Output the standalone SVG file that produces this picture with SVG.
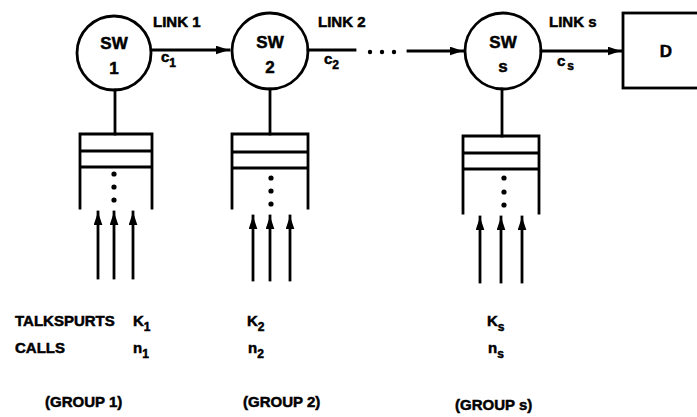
<svg xmlns="http://www.w3.org/2000/svg" width="697" height="417" viewBox="0 0 697 417">
<style>
  .ln { stroke:#000; stroke-width:2.8; fill:none; stroke-linecap:square; }
  .t { font-family:"Liberation Sans", Arial, sans-serif; font-weight:bold; font-size:15px; fill:#000; stroke:#000; stroke-width:0.5; }
  .big { font-size:17px; }
  .sub { font-size:12px; }
  .dot { fill:#000; }
</style>
<defs>
  <marker id="ah" viewBox="0 0 12 8" refX="12" refY="4" markerWidth="13" markerHeight="9" markerUnits="userSpaceOnUse" orient="auto">
    <path d="M0,0 L12,4 L0,8 Z" fill="#000"/>
  </marker>
  <marker id="au" viewBox="0 0 12 8" refX="12" refY="4" markerWidth="13" markerHeight="9" markerUnits="userSpaceOnUse" orient="auto">
    <path d="M0,0 L12,4 L0,8 Z" fill="#000"/>
  </marker>
</defs>
<rect width="697" height="417" fill="#fff"/>

<g id="connectors">
  <line class="ln" x1="152" y1="50" x2="229" y2="50" marker-end="url(#ah)"/>
  <line class="ln" x1="308" y1="50" x2="355" y2="50"/>
  <circle class="dot" cx="370" cy="52" r="2.2"/>
  <circle class="dot" cx="382" cy="52" r="2.2"/>
  <circle class="dot" cx="394" cy="52" r="2.2"/>
  <line class="ln" x1="408" y1="51" x2="463" y2="51" marker-end="url(#ah)"/>
  <line class="ln" x1="541" y1="51" x2="621" y2="51" marker-end="url(#ah)"/>
  <text class="t" x="153" y="27">LINK 1</text>
  <text class="t" x="161" y="62">c<tspan class="sub" dy="5">1</tspan></text>
  <text class="t" x="318" y="27">LINK 2</text>
  <text class="t" x="324" y="64">c<tspan class="sub" dy="5">2</tspan></text>
  <text class="t" x="549" y="27">LINK s</text>
  <text class="t" x="557" y="66">c<tspan class="sub" dx="2" dy="4">s</tspan></text>
</g>

<g id="sw1">
  <circle class="ln" cx="114" cy="53" r="37"/>
  <text class="t big" x="114" y="49" text-anchor="middle">SW</text>
  <text class="t big" x="114" y="74" text-anchor="middle">1</text>
  <line class="ln" x1="115" y1="90" x2="115" y2="134"/>
  <path class="ln" d="M80,208 V134 H152 V208 M80,151 H152 M80,167 H152"/>
  <circle class="dot" cx="114" cy="174" r="2.6"/>
  <circle class="dot" cx="114" cy="187" r="2.6"/>
  <circle class="dot" cx="114" cy="200" r="2.6"/>
  <line class="ln" x1="98" y1="278" x2="98" y2="212" marker-end="url(#au)"/>
  <line class="ln" x1="114" y1="278" x2="114" y2="212" marker-end="url(#au)"/>
  <line class="ln" x1="133" y1="278" x2="133" y2="212" marker-end="url(#au)"/>
</g>

<g id="sw2">
  <circle class="ln" cx="270" cy="51" r="38"/>
  <text class="t big" x="270" y="48" text-anchor="middle">SW</text>
  <text class="t big" x="270" y="73" text-anchor="middle">2</text>
  <line class="ln" x1="270" y1="89" x2="270" y2="134"/>
  <path class="ln" d="M232,208 V134 H308 V208 M232,152 H308 M232,168 H308"/>
  <circle class="dot" cx="271" cy="178" r="2.6"/>
  <circle class="dot" cx="271" cy="191" r="2.6"/>
  <circle class="dot" cx="271" cy="204" r="2.6"/>
  <line class="ln" x1="253" y1="280" x2="253" y2="216" marker-end="url(#au)"/>
  <line class="ln" x1="270" y1="280" x2="270" y2="216" marker-end="url(#au)"/>
  <line class="ln" x1="290" y1="280" x2="290" y2="216" marker-end="url(#au)"/>
</g>

<g id="sws">
  <circle class="ln" cx="503" cy="51" r="38"/>
  <text class="t big" x="503" y="48" text-anchor="middle">SW</text>
  <text class="t big" x="503" y="72" text-anchor="middle">s</text>
  <line class="ln" x1="502" y1="89" x2="502" y2="136"/>
  <path class="ln" d="M463,213 V136 H539 V213 M463,153 H539 M463,169 H539"/>
  <circle class="dot" cx="504" cy="178" r="2.6"/>
  <circle class="dot" cx="504" cy="192" r="2.6"/>
  <circle class="dot" cx="504" cy="205" r="2.6"/>
  <line class="ln" x1="480" y1="282" x2="480" y2="217" marker-end="url(#au)"/>
  <line class="ln" x1="501" y1="282" x2="501" y2="217" marker-end="url(#au)"/>
  <line class="ln" x1="522" y1="282" x2="522" y2="217" marker-end="url(#au)"/>
</g>

<g id="d">
  <rect class="ln" x="623" y="13" width="90" height="75"/>
  <text class="t big" x="666" y="57" text-anchor="middle">D</text>
</g>

<g id="labels">
  <text class="t" x="15" y="326">TALKSPURTS</text>
  <text class="t" x="15" y="353">CALLS</text>
  <text class="t" x="133" y="326">K<tspan class="sub" dy="5">1</tspan></text>
  <text class="t" x="133" y="353">n<tspan class="sub" dy="5">1</tspan></text>
  <text class="t" x="247" y="326">K<tspan class="sub" dy="5">2</tspan></text>
  <text class="t" x="248" y="353">n<tspan class="sub" dy="5">2</tspan></text>
  <text class="t" x="487" y="326">K<tspan class="sub" dy="5">s</tspan></text>
  <text class="t" x="488" y="353">n<tspan class="sub" dy="5">s</tspan></text>
  <text class="t" x="45" y="407">(GROUP 1)</text>
  <text class="t" x="243" y="407">(GROUP 2)</text>
  <text class="t" x="455" y="410">(GROUP s)</text>
</g>
</svg>
